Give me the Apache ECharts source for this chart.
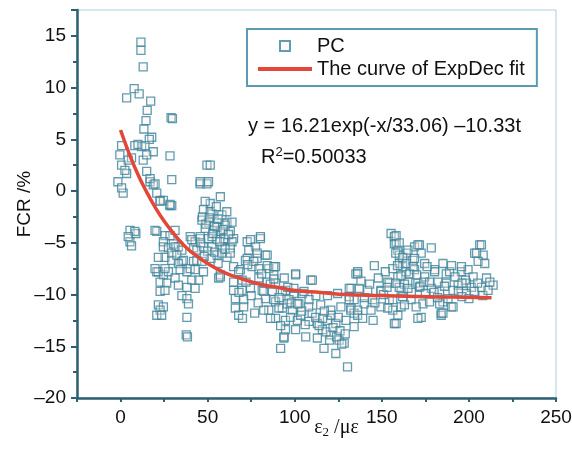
<!DOCTYPE html>
<html>
<head>
<meta charset="utf-8">
<script src="https://cdn.jsdelivr.net/npm/echarts@6/dist/echarts.min.js"></script>
<style>
  html, body { margin: 0; padding: 0; background: #fff; }
  #chart { width: 572px; height: 456px; }
</style>
</head>
<body>
<div id="chart"></div>
<script>
// PC scatter points [ε2, FCR], grouped by strain range
const pcA = [[11.7,14.4],[11.7,13.6],[13.0,12.0],[3.5,9.0],[7.8,9.9],[10.7,9.4],[17.3,8.7],[15.3,7.8],[14.6,6.8],[13.4,6.0],[17.9,5.2],[16.5,5.0],[8.2,4.4],[0.6,4.4],[12.1,4.3],[18.8,3.8],[-0.4,3.5],[6.3,3.2],[0.6,2.5],[4.4,3.0],[13.0,3.0],[15.0,1.9],[3.5,1.7],[-1.5,0.9],[1.5,-0.2],[16.9,0.9],[18.8,0.6],[15.0,3.5],[10.0,4.5],[14.0,4.4],[17.0,1.2],[5.4,-3.8],[8.8,-4.1],[5.4,-4.9],[6.3,-5.3],[8.2,-3.9],[4.4,-4.4],[0.6,0.3],[2.5,2.0]];
const pcB = [[29.0,7.1],[29.8,7.0],[28.4,3.4],[29.4,1.1],[19.8,0.7],[20.8,-0.2],[22.7,-0.9],[24.6,-0.9],[28.4,-1.4],[29.4,-1.4],[28.4,-1.3],[22.7,-1.0],[20.8,-3.9],[19.8,-3.8],[25.5,-4.3],[28.4,-4.3],[31.3,-3.8],[24.6,-4.9],[24.6,-5.4],[27.5,-5.5],[30.3,-5.1],[33.2,-5.4],[31.3,-5.4],[35.2,-5.7],[25.5,-6.4],[29.4,-6.7],[29.4,-6.0],[32.3,-6.2],[35.2,-6.8],[36.1,-6.7],[21.7,-6.4],[33.2,-7.0],[21.7,-7.8],[20.8,-7.8],[19.8,-7.5],[24.6,-8.1],[27.5,-7.8],[25.5,-7.5],[34.2,-7.6],[31.3,-8.4],[38.1,-7.8],[40.0,-7.5],[41.9,-6.8],[43.8,-6.7],[42.8,-7.6],[44.8,-8.6],[40.9,-8.6],[22.7,-8.8],[26.5,-8.9],[33.2,-9.1],[38.1,-9.3],[42.8,-9.4],[22.7,-9.7],[25.5,-9.6],[35.2,-10.1],[38.1,-10.4],[39.0,-10.9],[21.7,-11.0],[24.6,-11.2],[22.7,-11.5],[20.8,-12.0],[23.6,-12.0],[38.1,-12.2],[37.7,-13.9],[38.4,-14.1],[40.0,-4.4],[42.8,-4.9],[40.9,-4.7],[41.9,-5.5],[43.8,-5.7]];
const pcC = [[49.6,2.5],[51.5,2.5],[45.7,0.7],[49.6,0.7],[45.7,0.9],[50.5,0.9],[57.3,-0.55],[51.5,-1.2],[48.6,-1.0],[47.6,-1.8],[52.5,-2.2],[51.5,-2.0],[58.2,-2.3],[46.7,-2.8],[50.5,-3.0],[55.4,-3.1],[61.1,-3.1],[64.0,-3.0],[48.6,-3.6],[53.4,-3.8],[57.3,-3.9],[63.0,-3.9],[55.4,-3.5],[60.1,-3.3],[45.7,-4.6],[45.7,-4.4],[50.5,-4.6],[55.4,-4.7],[60.1,-4.7],[64.9,-4.6],[52.5,-4.4],[59.2,-4.6],[64.0,-4.9],[47.6,-5.4],[52.5,-5.4],[58.2,-5.4],[63.0,-5.5],[46.7,-6.8],[55.4,-6.2],[61.1,-6.4],[47.6,-7.8],[57.3,-8.1],[56.3,-8.4],[64.9,-7.3],[57.3,-8.3],[64.9,-8.8],[64.9,-9.6],[47,-2.5],[49,-3.2],[51,-2.6],[53,-4.1],[54,-3.4],[56,-2.7],[57,-4.9],[59,-3.7],[50,-5.8],[52,-6.5],[54,-5.9],[56,-7.0],[58,-6.0],[60,-5.6],[62,-4.2],[48,-6.3],[46,-5.0],[61,-2.0],[63,-6.0],[55,-1.5]];
const pcD = [[72.7,-4.9],[72.7,-6.5],[68.8,-7.6],[74.6,-4.7],[80.3,-4.6],[77.5,-5.4],[73.6,-5.7],[83.2,-6.2],[78.4,-6.5],[71.7,-6.7],[89.0,-7.3],[85.1,-7.5],[67.8,-7.8],[75.5,-7.3],[69.8,-8.6],[79.4,-8.4],[84.2,-8.8],[89.0,-8.9],[69.8,-9.6],[74.6,-9.4],[81.3,-9.6],[87.1,-9.7],[94.7,-9.6],[99.5,-9.9],[65.9,-10.4],[70.7,-10.5],[83.2,-10.4],[89.0,-10.7],[96.7,-10.5],[65.9,-11.3],[70.7,-11.2],[85.1,-11.5],[92.9,-11.3],[98.6,-11.5],[67.8,-12.0],[89.0,-12.3],[94.7,-12.5],[93.8,-14.2],[94.7,-13.4],[80.3,-4.4],[78.4,-6.0],[84.2,-6.2],[76.5,-6.8],[79.4,-7.5],[84.2,-7.2],[88.0,-7.3],[88.0,-8.1],[82.2,-9.7],[92.9,-9.7],[99.5,-9.4],[82.2,-11.5],[88.0,-10.5],[90.9,-11.3],[95.7,-10.9],[86.1,-12.3],[91.9,-13.0],[97.6,-12.2],[93.8,-14.1],[91.9,-15.2],[72,-8.8],[75,-10.1],[77,-11.8],[79,-10.8],[81,-8.0],[86,-9.0],[88,-8.5],[91,-10.3],[94,-8.4],[96,-9.3],[98,-10.8],[68,-9.8],[70,-12.3],[73,-7.1]];
const pcE = [[100.5,-8.1],[104.4,-9.9],[102.4,-10.9],[101.5,-12.5],[100.5,-13.4],[100.5,-8.0],[109.2,-8.6],[110.1,-8.6],[105.3,-9.7],[112.1,-10.1],[118.8,-10.1],[124.6,-9.9],[131.3,-10.2],[132.3,-9.4],[135.1,-8.0],[101.5,-10.9],[108.2,-10.5],[114.9,-11.0],[120.7,-11.5],[126.5,-11.2],[132.3,-11.3],[103.4,-12.0],[108.2,-12.6],[113.0,-12.8],[118.8,-12.5],[123.6,-12.8],[129.4,-12.5],[106.3,-14.1],[115.9,-13.4],[120.7,-13.9],[125.5,-14.4],[128.4,-14.7],[116.8,-15.2],[123.6,-15.7],[130.3,-17.0],[134.1,-11.8],[134.1,-13.1],[131.3,-9.4],[134.1,-10.5],[132.2,-11.5],[131.3,-10.5],[110,-11.8],[112,-12.2],[114,-13.0],[116,-12.3],[118,-13.6],[120,-14.4],[122,-13.2],[124,-14.1],[126,-13.5],[127,-14.8],[121,-12.0],[117,-11.6],[113,-14.2],[108,-11.2],[106,-12.9],[104,-11.6],[125,-12.2],[129,-13.8]];
const pcF = [[155.3,-4.1],[157.2,-5.1],[145.7,-7.2],[136.1,-7.8],[136.1,-8.0],[137.0,-9.4],[141.9,-9.6],[149.5,-9.6],[154.3,-8.9],[139.9,-10.9],[144.7,-10.5],[149.5,-11.2],[154.3,-10.5],[136.1,-12.0],[143.8,-11.5],[156.3,-11.5],[157.2,-12.8],[149.5,-9.7],[153.4,-11.3],[158.2,-12.8],[136.1,-11.5],[157.2,-4.4],[158.2,-5.1],[158.2,-4.3],[159.2,-5.7],[168.8,-5.4],[164.0,-6.0],[172.6,-6.0],[167.8,-6.7],[160.1,-7.0],[156.3,-7.5],[174.6,-7.0],[164.0,-7.8],[168.8,-7.6],[159.2,-8.3],[174.6,-8.3],[153.4,-8.8],[164.9,-8.8],[170.7,-8.9],[161.1,-9.6],[156.3,-10.5],[166.8,-10.5],[173.6,-10.9],[161.1,-11.2],[172.6,-12.2],[171.6,-5.2],[170.7,-5.2],[160.1,-6.2],[162.0,-7.3],[168.8,-6.5],[171.6,-9.3],[169.7,-11.2],[163.0,-11.0],[159.2,-12.0],[170.7,-12.3],[138,-8.7],[140,-10.3],[143,-9.0],[146,-10.8],[148,-8.4],[151,-10.0],[153,-9.3],[145,-12.5],[139,-12.3],[152,-7.8],[158,-6.0],[159,-7.2],[160,-5.0],[161,-8.2],[162,-6.4],[163,-9.0],[164,-7.0],[165,-5.7],[166,-8.0],[167,-9.8],[160,-9.3],[158,-8.9],[162,-10.2],[165,-9.4],[168,-7.3],[170,-8.1],[172,-9.2],[174,-8.8]];
const pcG = [[178.4,-5.5],[180.3,-7.6],[187.0,-8.0],[182.2,-8.8],[178.4,-9.4],[185.1,-10.7],[184.1,-12.0],[185.1,-7.0],[180.3,-7.8],[188.9,-7.8],[195.7,-7.8],[199.5,-7.6],[202.4,-8.3],[210.1,-8.4],[213.9,-9.1],[207.2,-9.3],[201.4,-9.3],[193.8,-9.1],[187.0,-8.9],[177.4,-8.8],[198.6,-9.9],[190.9,-9.6],[183.2,-9.7],[184.1,-11.8],[189.9,-11.2],[183.2,-10.9],[177.4,-10.7],[206.2,-5.2],[203.3,-6.0],[208.2,-6.2],[205.3,-6.8],[209.1,-7.0],[207.2,-5.2],[204.4,-6.0],[212.0,-8.8],[185.1,-11.8],[190.9,-11.2],[198.6,-8.9],[195.7,-7.3],[176,-7.3],[175,-9.9],[180,-9.8],[182,-10.3],[186,-9.2],[188,-10.4],[192,-8.3],[194,-9.7],[196,-10.2],[198,-8.6],[200,-10.4],[203,-9.7],[205,-8.9],[208,-10.1],[211,-9.6],[190,-7.2],[196,-8.9]];

// ExpDec fit curve
const fitX = [0, 5, 10, 15, 20, 25, 30, 35, 40, 50, 60, 70, 80, 90, 100, 115, 130, 150, 170, 190, 213];
const fitY = [5.9, 3.6, 1.6, -0.1, -1.6, -2.9, -4.0, -5.0, -5.8, -7.0, -7.9, -8.5, -9.0, -9.3, -9.6, -9.8, -10.0, -10.1, -10.2, -10.25, -10.3];

const xTickLabels = [0, 50, 100, 150, 200, 250];
const yTickLabels = [-20, -15, -10, -5, 0, 5, 10, 15];

const pcData = [].concat(pcA, pcB, pcC, pcD, pcE, pcF, pcG);
const fitData = fitX.map((x, i) => [x, fitY[i]]);

const axisColor = '#2e5f72';
const fitColor = '#e2473a';
const labelFont = 'Liberation Sans, Arial, sans-serif';
const dash = v => String(v).replace('-', '\u2013');

const chart = echarts.init(document.getElementById('chart'));

chart.setOption({
  animation: false,
  backgroundColor: '#fff',
  grid: {
    left: 77, right: 16, top: 10, bottom: 58,
    outerBoundsMode: 'none',
    show: true, borderColor: '#a9cfe1', borderWidth: 1
  },
  legend: {
    orient: 'vertical',
    left: 247, top: 29,
    padding: [7, 12, 7, 9],
    itemWidth: 54, itemHeight: 10, itemGap: 3,
    borderColor: '#5b9bb1', borderWidth: 2,
    symbolKeepAspect: true,
    textStyle: { fontSize: 20, color: '#111', fontFamily: labelFont },
    data: [
      { name: 'PC', icon: 'path://M0,0H10V10H0Z' },
      {
        name: 'The curve of ExpDec fit',
        itemStyle: { color: 'rgba(0,0,0,0)', borderWidth: 0 },
        lineStyle: { color: fitColor, width: 4 }
      }
    ]
  },
  xAxis: {
    type: 'value',
    min: -25, max: 250, interval: 25,
    name: '{e|ε}{s|2}{e| /με}',
    nameLocation: 'middle',
    nameGap: 18,
    nameMoveOverlap: false,
    nameTextStyle: {
      padding: [0, 0, 0, 40],
      rich: {
        e: { fontSize: 20, fontFamily: 'Liberation Serif, serif', color: '#111' },
        s: { fontSize: 13, fontFamily: 'Liberation Serif, serif', color: '#111', verticalAlign: 'bottom', padding: [10, 0, 0, 0] }
      }
    },
    axisLine: { show: true, onZero: false, lineStyle: { color: axisColor, width: 2.5 } },
    axisTick: { show: true, length: 4, lineStyle: { color: axisColor, width: 2 } },
    axisLabel: {
      fontSize: 19, color: '#111', fontFamily: labelFont, margin: 10,
      formatter: v => xTickLabels.indexOf(v) >= 0 ? String(v) : ''
    },
    splitLine: { show: false }
  },
  yAxis: {
    type: 'value',
    min: -20, max: 17.5, interval: 5,
    name: 'FCR /%',
    nameLocation: 'middle',
    nameGap: 43,
    nameMoveOverlap: false,
    nameTextStyle: { fontSize: 19, color: '#111', fontFamily: labelFont },
    axisLine: { show: true, onZero: false, lineStyle: { color: axisColor, width: 2.5 } },
    axisTick: { show: true, length: 6, lineStyle: { color: axisColor, width: 2 } },
    minorTick: { show: true, splitNumber: 2, length: 4, lineStyle: { color: axisColor, width: 2 } },
    axisLabel: {
      fontSize: 19, color: '#111', fontFamily: labelFont, margin: 11,
      formatter: v => yTickLabels.indexOf(v) >= 0 ? dash(v) : ''
    },
    splitLine: { show: false }
  },
  series: [
    {
      name: 'PC',
      type: 'scatter',
      symbol: 'rect',
      symbolSize: 8,
      data: pcData,
      itemStyle: {
        color: 'rgba(255,236,228,0.35)',
        borderColor: '#3a849f',
        borderWidth: 1.3
      },
      z: 2
    },
    {
      name: 'The curve of ExpDec fit',
      type: 'line',
      smooth: true,
      showSymbol: false,
      symbol: 'none',
      data: fitData,
      lineStyle: { color: fitColor, width: 3.5 },
      itemStyle: { color: fitColor },
      z: 3
    }
  ],
  graphic: [
    {
      type: 'text', left: 248, top: 116,
      style: { text: 'y = 16.21exp(-x/33.06) \u201310.33t', fontSize: 20, fill: '#111', fontFamily: labelFont }
    },
    {
      type: 'text', left: 261, top: 146,
      style: {
        text: '{a|R}{s|2}{a|=0.50033}',
        rich: {
          a: { fontSize: 20, fill: '#111', fontFamily: labelFont },
          s: { fontSize: 13, fill: '#111', fontFamily: labelFont, verticalAlign: 'top', padding: [0, 0, 10, 0] }
        }
      }
    }
  ]
});
</script>
</body>
</html>
